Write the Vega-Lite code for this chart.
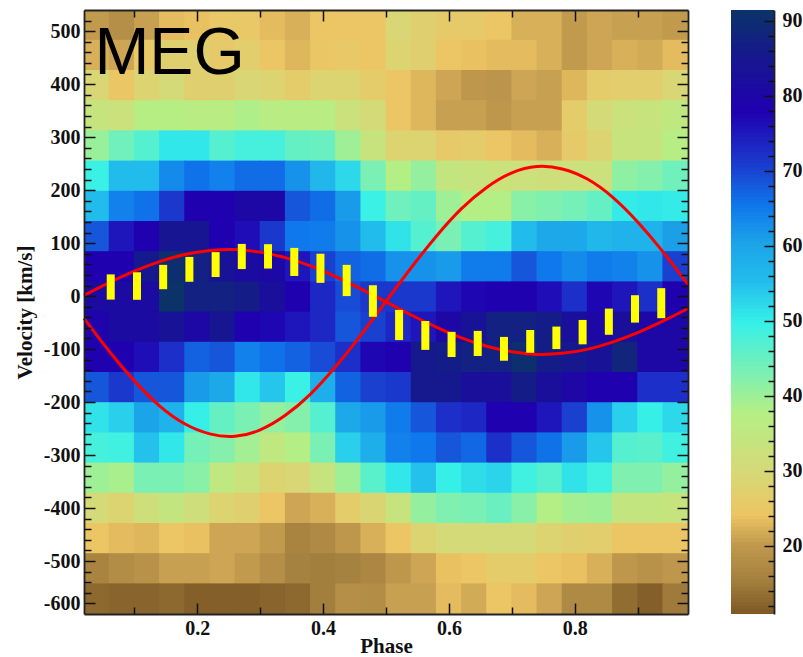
{"$schema":"https://vega.github.io/schema/vega-lite/v6.json","background":"white","padding":{"left":14,"top":9,"right":0,"bottom":0},"config":{"view":{"stroke":null},"axis":{"labelFont":"Liberation Serif","labelFontWeight":"bold","labelFontSize":20,"labelColor":"#111","titleFont":"Liberation Serif","titleFontWeight":"bold","titleFontSize":21,"titleColor":"#111","grid":false,"ticks":true,"tickColor":"#111","tickWidth":1.5,"domainColor":"#222","domainWidth":1.8,"labelOverlap":false,"labelFlush":false}},"datasets":{"cells":[
{"p":0.04,"v":511.5,"z":20},{"p":0.08,"v":511.5,"z":18},{"p":0.12,"v":511.5,"z":20.5},{"p":0.16,"v":511.5,"z":23},{"p":0.2,"v":511.5,"z":23.5},{"p":0.24,"v":511.5,"z":25},{"p":0.28,"v":511.5,"z":25},{"p":0.32,"v":511.5,"z":23},{"p":0.36,"v":511.5,"z":22},{"p":0.4,"v":511.5,"z":24},{"p":0.44,"v":511.5,"z":24},{"p":0.48,"v":511.5,"z":24},{"p":0.52,"v":511.5,"z":29},{"p":0.56,"v":511.5,"z":27},{"p":0.6,"v":511.5,"z":25.5},{"p":0.64,"v":511.5,"z":25.5},{"p":0.68,"v":511.5,"z":24},{"p":0.72,"v":511.5,"z":22},{"p":0.76,"v":511.5,"z":22},{"p":0.8,"v":511.5,"z":20},{"p":0.84,"v":511.5,"z":21},{"p":0.88,"v":511.5,"z":20.5},{"p":0.92,"v":511.5,"z":20.5},{"p":0.96,"v":511.5,"z":20},
{"p":0.04,"v":454.5,"z":22},{"p":0.08,"v":454.5,"z":21},{"p":0.12,"v":454.5,"z":25},{"p":0.16,"v":454.5,"z":27},{"p":0.2,"v":454.5,"z":27},{"p":0.24,"v":454.5,"z":25.5},{"p":0.28,"v":454.5,"z":26.5},{"p":0.32,"v":454.5,"z":24},{"p":0.36,"v":454.5,"z":22.5},{"p":0.4,"v":454.5,"z":24.5},{"p":0.44,"v":454.5,"z":25},{"p":0.48,"v":454.5,"z":24},{"p":0.52,"v":454.5,"z":28},{"p":0.56,"v":454.5,"z":27},{"p":0.6,"v":454.5,"z":24},{"p":0.64,"v":454.5,"z":23.5},{"p":0.68,"v":454.5,"z":23},{"p":0.72,"v":454.5,"z":23},{"p":0.76,"v":454.5,"z":22},{"p":0.8,"v":454.5,"z":20},{"p":0.84,"v":454.5,"z":21},{"p":0.88,"v":454.5,"z":22},{"p":0.92,"v":454.5,"z":21.5},{"p":0.96,"v":454.5,"z":23},
{"p":0.04,"v":397.5,"z":29},{"p":0.08,"v":397.5,"z":24.5},{"p":0.12,"v":397.5,"z":28},{"p":0.16,"v":397.5,"z":30},{"p":0.2,"v":397.5,"z":27},{"p":0.24,"v":397.5,"z":27},{"p":0.28,"v":397.5,"z":29},{"p":0.32,"v":397.5,"z":28},{"p":0.36,"v":397.5,"z":26},{"p":0.4,"v":397.5,"z":28},{"p":0.44,"v":397.5,"z":28},{"p":0.48,"v":397.5,"z":26},{"p":0.52,"v":397.5,"z":24},{"p":0.56,"v":397.5,"z":22.5},{"p":0.6,"v":397.5,"z":21},{"p":0.64,"v":397.5,"z":19.5},{"p":0.68,"v":397.5,"z":19},{"p":0.72,"v":397.5,"z":21},{"p":0.76,"v":397.5,"z":20.5},{"p":0.8,"v":397.5,"z":22.5},{"p":0.84,"v":397.5,"z":26},{"p":0.88,"v":397.5,"z":26.5},{"p":0.92,"v":397.5,"z":26.5},{"p":0.96,"v":397.5,"z":29},
{"p":0.04,"v":340.5,"z":33.5},{"p":0.08,"v":340.5,"z":32.5},{"p":0.12,"v":340.5,"z":37},{"p":0.16,"v":340.5,"z":37},{"p":0.2,"v":340.5,"z":36.5},{"p":0.24,"v":340.5,"z":36.5},{"p":0.28,"v":340.5,"z":38},{"p":0.32,"v":340.5,"z":36.5},{"p":0.36,"v":340.5,"z":36.5},{"p":0.4,"v":340.5,"z":36.5},{"p":0.44,"v":340.5,"z":32.5},{"p":0.48,"v":340.5,"z":30},{"p":0.52,"v":340.5,"z":24},{"p":0.56,"v":340.5,"z":22.5},{"p":0.6,"v":340.5,"z":20.5},{"p":0.64,"v":340.5,"z":20.5},{"p":0.68,"v":340.5,"z":19.5},{"p":0.72,"v":340.5,"z":20.5},{"p":0.76,"v":340.5,"z":20.5},{"p":0.8,"v":340.5,"z":26},{"p":0.84,"v":340.5,"z":30},{"p":0.88,"v":340.5,"z":32.5},{"p":0.92,"v":340.5,"z":33},{"p":0.96,"v":340.5,"z":35},
{"p":0.04,"v":283.5,"z":40},{"p":0.08,"v":283.5,"z":44},{"p":0.12,"v":283.5,"z":46.5},{"p":0.16,"v":283.5,"z":50.5},{"p":0.2,"v":283.5,"z":50.5},{"p":0.24,"v":283.5,"z":46.5},{"p":0.28,"v":283.5,"z":48},{"p":0.32,"v":283.5,"z":48},{"p":0.36,"v":283.5,"z":45},{"p":0.4,"v":283.5,"z":44.5},{"p":0.44,"v":283.5,"z":39.5},{"p":0.48,"v":283.5,"z":33},{"p":0.52,"v":283.5,"z":28},{"p":0.56,"v":283.5,"z":28},{"p":0.6,"v":283.5,"z":25.5},{"p":0.64,"v":283.5,"z":26},{"p":0.68,"v":283.5,"z":24},{"p":0.72,"v":283.5,"z":23},{"p":0.76,"v":283.5,"z":22},{"p":0.8,"v":283.5,"z":25.5},{"p":0.84,"v":283.5,"z":28},{"p":0.88,"v":283.5,"z":33},{"p":0.92,"v":283.5,"z":33.5},{"p":0.96,"v":283.5,"z":37},
{"p":0.04,"v":226.5,"z":49},{"p":0.08,"v":226.5,"z":55},{"p":0.12,"v":226.5,"z":55},{"p":0.16,"v":226.5,"z":63},{"p":0.2,"v":226.5,"z":65.5},{"p":0.24,"v":226.5,"z":64},{"p":0.28,"v":226.5,"z":66},{"p":0.32,"v":226.5,"z":66},{"p":0.36,"v":226.5,"z":62},{"p":0.4,"v":226.5,"z":56},{"p":0.44,"v":226.5,"z":52},{"p":0.48,"v":226.5,"z":43},{"p":0.52,"v":226.5,"z":37.5},{"p":0.56,"v":226.5,"z":40.5},{"p":0.6,"v":226.5,"z":34},{"p":0.64,"v":226.5,"z":33},{"p":0.68,"v":226.5,"z":32.5},{"p":0.72,"v":226.5,"z":32},{"p":0.76,"v":226.5,"z":31.5},{"p":0.8,"v":226.5,"z":32},{"p":0.84,"v":226.5,"z":32},{"p":0.88,"v":226.5,"z":41},{"p":0.92,"v":226.5,"z":42},{"p":0.96,"v":226.5,"z":44},
{"p":0.04,"v":169.5,"z":55},{"p":0.08,"v":169.5,"z":64},{"p":0.12,"v":169.5,"z":65.5},{"p":0.16,"v":169.5,"z":71},{"p":0.2,"v":169.5,"z":78},{"p":0.24,"v":169.5,"z":78},{"p":0.28,"v":169.5,"z":80},{"p":0.32,"v":169.5,"z":80},{"p":0.36,"v":169.5,"z":68},{"p":0.4,"v":169.5,"z":66},{"p":0.44,"v":169.5,"z":61},{"p":0.48,"v":169.5,"z":49},{"p":0.52,"v":169.5,"z":44},{"p":0.56,"v":169.5,"z":45},{"p":0.6,"v":169.5,"z":39.5},{"p":0.64,"v":169.5,"z":37.5},{"p":0.68,"v":169.5,"z":37.5},{"p":0.72,"v":169.5,"z":41.5},{"p":0.76,"v":169.5,"z":42.5},{"p":0.8,"v":169.5,"z":43.5},{"p":0.84,"v":169.5,"z":45},{"p":0.88,"v":169.5,"z":50},{"p":0.92,"v":169.5,"z":50.5},{"p":0.96,"v":169.5,"z":50},
{"p":0.04,"v":112.5,"z":68},{"p":0.08,"v":112.5,"z":75},{"p":0.12,"v":112.5,"z":78},{"p":0.16,"v":112.5,"z":84},{"p":0.2,"v":112.5,"z":84},{"p":0.24,"v":112.5,"z":78},{"p":0.28,"v":112.5,"z":76},{"p":0.32,"v":112.5,"z":71},{"p":0.36,"v":112.5,"z":65},{"p":0.4,"v":112.5,"z":64.5},{"p":0.44,"v":112.5,"z":62},{"p":0.48,"v":112.5,"z":55},{"p":0.52,"v":112.5,"z":51},{"p":0.56,"v":112.5,"z":46.5},{"p":0.6,"v":112.5,"z":43},{"p":0.64,"v":112.5,"z":46.5},{"p":0.68,"v":112.5,"z":48},{"p":0.72,"v":112.5,"z":55},{"p":0.76,"v":112.5,"z":59},{"p":0.8,"v":112.5,"z":59},{"p":0.84,"v":112.5,"z":56},{"p":0.88,"v":112.5,"z":57},{"p":0.92,"v":112.5,"z":57},{"p":0.96,"v":112.5,"z":60.5},
{"p":0.04,"v":55.5,"z":78},{"p":0.08,"v":55.5,"z":78},{"p":0.12,"v":55.5,"z":85},{"p":0.16,"v":55.5,"z":90},{"p":0.2,"v":55.5,"z":87},{"p":0.24,"v":55.5,"z":83},{"p":0.28,"v":55.5,"z":81},{"p":0.32,"v":55.5,"z":80},{"p":0.36,"v":55.5,"z":75},{"p":0.4,"v":55.5,"z":70},{"p":0.44,"v":55.5,"z":67},{"p":0.48,"v":55.5,"z":66},{"p":0.52,"v":55.5,"z":62},{"p":0.56,"v":55.5,"z":62},{"p":0.6,"v":55.5,"z":61},{"p":0.64,"v":55.5,"z":64.5},{"p":0.68,"v":55.5,"z":64.5},{"p":0.72,"v":55.5,"z":68},{"p":0.76,"v":55.5,"z":65},{"p":0.8,"v":55.5,"z":63},{"p":0.84,"v":55.5,"z":64.5},{"p":0.88,"v":55.5,"z":64},{"p":0.92,"v":55.5,"z":62},{"p":0.96,"v":55.5,"z":70},
{"p":0.04,"v":-1.5,"z":81},{"p":0.08,"v":-1.5,"z":81},{"p":0.12,"v":-1.5,"z":81},{"p":0.16,"v":-1.5,"z":91},{"p":0.2,"v":-1.5,"z":87},{"p":0.24,"v":-1.5,"z":87},{"p":0.28,"v":-1.5,"z":86},{"p":0.32,"v":-1.5,"z":82},{"p":0.36,"v":-1.5,"z":78},{"p":0.4,"v":-1.5,"z":73},{"p":0.44,"v":-1.5,"z":69},{"p":0.48,"v":-1.5,"z":71},{"p":0.52,"v":-1.5,"z":71},{"p":0.56,"v":-1.5,"z":71},{"p":0.6,"v":-1.5,"z":75},{"p":0.64,"v":-1.5,"z":77},{"p":0.68,"v":-1.5,"z":78},{"p":0.72,"v":-1.5,"z":78},{"p":0.76,"v":-1.5,"z":76},{"p":0.8,"v":-1.5,"z":72},{"p":0.84,"v":-1.5,"z":77},{"p":0.88,"v":-1.5,"z":75},{"p":0.92,"v":-1.5,"z":72},{"p":0.96,"v":-1.5,"z":78},
{"p":0.04,"v":-58.5,"z":79},{"p":0.08,"v":-58.5,"z":81},{"p":0.12,"v":-58.5,"z":81},{"p":0.16,"v":-58.5,"z":83},{"p":0.2,"v":-58.5,"z":80},{"p":0.24,"v":-58.5,"z":84},{"p":0.28,"v":-58.5,"z":78},{"p":0.32,"v":-58.5,"z":77},{"p":0.36,"v":-58.5,"z":75},{"p":0.4,"v":-58.5,"z":73},{"p":0.44,"v":-58.5,"z":68},{"p":0.48,"v":-58.5,"z":70},{"p":0.52,"v":-58.5,"z":73},{"p":0.56,"v":-58.5,"z":75},{"p":0.6,"v":-58.5,"z":80},{"p":0.64,"v":-58.5,"z":83},{"p":0.68,"v":-58.5,"z":87},{"p":0.72,"v":-58.5,"z":87},{"p":0.76,"v":-58.5,"z":86},{"p":0.8,"v":-58.5,"z":82},{"p":0.84,"v":-58.5,"z":80},{"p":0.88,"v":-58.5,"z":82},{"p":0.92,"v":-58.5,"z":80},{"p":0.96,"v":-58.5,"z":80},
{"p":0.04,"v":-115.5,"z":78},{"p":0.08,"v":-115.5,"z":78},{"p":0.12,"v":-115.5,"z":76},{"p":0.16,"v":-115.5,"z":72},{"p":0.2,"v":-115.5,"z":67},{"p":0.24,"v":-115.5,"z":68},{"p":0.28,"v":-115.5,"z":64},{"p":0.32,"v":-115.5,"z":65.5},{"p":0.36,"v":-115.5,"z":67},{"p":0.4,"v":-115.5,"z":69},{"p":0.44,"v":-115.5,"z":72},{"p":0.48,"v":-115.5,"z":77},{"p":0.52,"v":-115.5,"z":78},{"p":0.56,"v":-115.5,"z":85},{"p":0.6,"v":-115.5,"z":86},{"p":0.64,"v":-115.5,"z":87},{"p":0.68,"v":-115.5,"z":87},{"p":0.72,"v":-115.5,"z":90},{"p":0.76,"v":-115.5,"z":86},{"p":0.8,"v":-115.5,"z":85},{"p":0.84,"v":-115.5,"z":83},{"p":0.88,"v":-115.5,"z":88},{"p":0.92,"v":-115.5,"z":80},{"p":0.96,"v":-115.5,"z":80},
{"p":0.04,"v":-172.5,"z":68},{"p":0.08,"v":-172.5,"z":71},{"p":0.12,"v":-172.5,"z":68},{"p":0.16,"v":-172.5,"z":68},{"p":0.2,"v":-172.5,"z":61},{"p":0.24,"v":-172.5,"z":59},{"p":0.28,"v":-172.5,"z":50.5},{"p":0.32,"v":-172.5,"z":54},{"p":0.36,"v":-172.5,"z":49},{"p":0.4,"v":-172.5,"z":58},{"p":0.44,"v":-172.5,"z":67},{"p":0.48,"v":-172.5,"z":70},{"p":0.52,"v":-172.5,"z":71},{"p":0.56,"v":-172.5,"z":85},{"p":0.6,"v":-172.5,"z":85},{"p":0.64,"v":-172.5,"z":82},{"p":0.68,"v":-172.5,"z":82},{"p":0.72,"v":-172.5,"z":86},{"p":0.76,"v":-172.5,"z":82},{"p":0.8,"v":-172.5,"z":80},{"p":0.84,"v":-172.5,"z":78},{"p":0.88,"v":-172.5,"z":78},{"p":0.92,"v":-172.5,"z":72},{"p":0.96,"v":-172.5,"z":72},
{"p":0.04,"v":-229.5,"z":51},{"p":0.08,"v":-229.5,"z":53},{"p":0.12,"v":-229.5,"z":60},{"p":0.16,"v":-229.5,"z":57},{"p":0.2,"v":-229.5,"z":49.5},{"p":0.24,"v":-229.5,"z":45},{"p":0.28,"v":-229.5,"z":43},{"p":0.32,"v":-229.5,"z":40.5},{"p":0.36,"v":-229.5,"z":42},{"p":0.4,"v":-229.5,"z":46.5},{"p":0.44,"v":-229.5,"z":59},{"p":0.48,"v":-229.5,"z":61},{"p":0.52,"v":-229.5,"z":64.5},{"p":0.56,"v":-229.5,"z":68},{"p":0.6,"v":-229.5,"z":72},{"p":0.64,"v":-229.5,"z":73},{"p":0.68,"v":-229.5,"z":78},{"p":0.72,"v":-229.5,"z":78},{"p":0.76,"v":-229.5,"z":75},{"p":0.8,"v":-229.5,"z":70},{"p":0.84,"v":-229.5,"z":62},{"p":0.88,"v":-229.5,"z":53},{"p":0.92,"v":-229.5,"z":49.5},{"p":0.96,"v":-229.5,"z":52},
{"p":0.04,"v":-286.5,"z":48},{"p":0.08,"v":-286.5,"z":48.5},{"p":0.12,"v":-286.5,"z":54.5},{"p":0.16,"v":-286.5,"z":50.5},{"p":0.2,"v":-286.5,"z":43.5},{"p":0.24,"v":-286.5,"z":42},{"p":0.28,"v":-286.5,"z":39},{"p":0.32,"v":-286.5,"z":35},{"p":0.36,"v":-286.5,"z":37.5},{"p":0.4,"v":-286.5,"z":43},{"p":0.44,"v":-286.5,"z":53},{"p":0.48,"v":-286.5,"z":58},{"p":0.52,"v":-286.5,"z":64},{"p":0.56,"v":-286.5,"z":65},{"p":0.6,"v":-286.5,"z":68},{"p":0.64,"v":-286.5,"z":66.5},{"p":0.68,"v":-286.5,"z":72},{"p":0.72,"v":-286.5,"z":68},{"p":0.76,"v":-286.5,"z":65.5},{"p":0.8,"v":-286.5,"z":61},{"p":0.84,"v":-286.5,"z":54},{"p":0.88,"v":-286.5,"z":46.5},{"p":0.92,"v":-286.5,"z":46},{"p":0.96,"v":-286.5,"z":48.5},
{"p":0.04,"v":-343.5,"z":39.5},{"p":0.08,"v":-343.5,"z":38.5},{"p":0.12,"v":-343.5,"z":43},{"p":0.16,"v":-343.5,"z":43},{"p":0.2,"v":-343.5,"z":41.5},{"p":0.24,"v":-343.5,"z":35},{"p":0.28,"v":-343.5,"z":32.5},{"p":0.32,"v":-343.5,"z":28},{"p":0.36,"v":-343.5,"z":29},{"p":0.4,"v":-343.5,"z":33},{"p":0.44,"v":-343.5,"z":39.5},{"p":0.48,"v":-343.5,"z":46},{"p":0.52,"v":-343.5,"z":50.5},{"p":0.56,"v":-343.5,"z":54.5},{"p":0.6,"v":-343.5,"z":49.5},{"p":0.64,"v":-343.5,"z":51.5},{"p":0.68,"v":-343.5,"z":52.5},{"p":0.72,"v":-343.5,"z":48.5},{"p":0.76,"v":-343.5,"z":46.5},{"p":0.8,"v":-343.5,"z":51},{"p":0.84,"v":-343.5,"z":48.5},{"p":0.88,"v":-343.5,"z":42.5},{"p":0.92,"v":-343.5,"z":42.5},{"p":0.96,"v":-343.5,"z":40.5},
{"p":0.04,"v":-400.5,"z":30},{"p":0.08,"v":-400.5,"z":28},{"p":0.12,"v":-400.5,"z":31.5},{"p":0.16,"v":-400.5,"z":34},{"p":0.2,"v":-400.5,"z":31.5},{"p":0.24,"v":-400.5,"z":28},{"p":0.28,"v":-400.5,"z":27},{"p":0.32,"v":-400.5,"z":24},{"p":0.36,"v":-400.5,"z":21},{"p":0.4,"v":-400.5,"z":22},{"p":0.44,"v":-400.5,"z":26},{"p":0.48,"v":-400.5,"z":28.5},{"p":0.52,"v":-400.5,"z":33},{"p":0.56,"v":-400.5,"z":40.5},{"p":0.6,"v":-400.5,"z":42.5},{"p":0.64,"v":-400.5,"z":43},{"p":0.68,"v":-400.5,"z":44.5},{"p":0.72,"v":-400.5,"z":41.5},{"p":0.76,"v":-400.5,"z":37.5},{"p":0.8,"v":-400.5,"z":39},{"p":0.84,"v":-400.5,"z":39.5},{"p":0.88,"v":-400.5,"z":34},{"p":0.92,"v":-400.5,"z":34},{"p":0.96,"v":-400.5,"z":33},
{"p":0.04,"v":-457.5,"z":24},{"p":0.08,"v":-457.5,"z":23},{"p":0.12,"v":-457.5,"z":22.5},{"p":0.16,"v":-457.5,"z":24},{"p":0.2,"v":-457.5,"z":23.5},{"p":0.24,"v":-457.5,"z":21},{"p":0.28,"v":-457.5,"z":21},{"p":0.32,"v":-457.5,"z":20},{"p":0.36,"v":-457.5,"z":16},{"p":0.4,"v":-457.5,"z":17},{"p":0.44,"v":-457.5,"z":19.5},{"p":0.48,"v":-457.5,"z":22},{"p":0.52,"v":-457.5,"z":24},{"p":0.56,"v":-457.5,"z":28},{"p":0.6,"v":-457.5,"z":30},{"p":0.64,"v":-457.5,"z":30},{"p":0.68,"v":-457.5,"z":30},{"p":0.72,"v":-457.5,"z":30},{"p":0.76,"v":-457.5,"z":28},{"p":0.8,"v":-457.5,"z":27},{"p":0.84,"v":-457.5,"z":26.5},{"p":0.88,"v":-457.5,"z":24},{"p":0.92,"v":-457.5,"z":24},{"p":0.96,"v":-457.5,"z":24},
{"p":0.04,"v":-514.5,"z":16},{"p":0.08,"v":-514.5,"z":17.5},{"p":0.12,"v":-514.5,"z":18.5},{"p":0.16,"v":-514.5,"z":20.5},{"p":0.2,"v":-514.5,"z":20.5},{"p":0.24,"v":-514.5,"z":21},{"p":0.28,"v":-514.5,"z":20},{"p":0.32,"v":-514.5,"z":18},{"p":0.36,"v":-514.5,"z":15.5},{"p":0.4,"v":-514.5,"z":15},{"p":0.44,"v":-514.5,"z":15.5},{"p":0.48,"v":-514.5,"z":16.5},{"p":0.52,"v":-514.5,"z":19.5},{"p":0.56,"v":-514.5,"z":21},{"p":0.6,"v":-514.5,"z":23.5},{"p":0.64,"v":-514.5,"z":24},{"p":0.68,"v":-514.5,"z":26},{"p":0.72,"v":-514.5,"z":26},{"p":0.76,"v":-514.5,"z":24},{"p":0.8,"v":-514.5,"z":23.5},{"p":0.84,"v":-514.5,"z":22},{"p":0.88,"v":-514.5,"z":19.5},{"p":0.92,"v":-514.5,"z":18.5},{"p":0.96,"v":-514.5,"z":19.5},
{"p":0.04,"v":-571.5,"z":12.5},{"p":0.08,"v":-571.5,"z":12},{"p":0.12,"v":-571.5,"z":12},{"p":0.16,"v":-571.5,"z":12.5},{"p":0.2,"v":-571.5,"z":11.5},{"p":0.24,"v":-571.5,"z":11.5},{"p":0.28,"v":-571.5,"z":11.5},{"p":0.32,"v":-571.5,"z":12},{"p":0.36,"v":-571.5,"z":12.5},{"p":0.4,"v":-571.5,"z":15},{"p":0.44,"v":-571.5,"z":18},{"p":0.48,"v":-571.5,"z":17.5},{"p":0.52,"v":-571.5,"z":20.5},{"p":0.56,"v":-571.5,"z":20.5},{"p":0.6,"v":-571.5,"z":23},{"p":0.64,"v":-571.5,"z":21.5},{"p":0.68,"v":-571.5,"z":24},{"p":0.72,"v":-571.5,"z":23},{"p":0.76,"v":-571.5,"z":21},{"p":0.8,"v":-571.5,"z":17},{"p":0.84,"v":-571.5,"z":17},{"p":0.88,"v":-571.5,"z":13},{"p":0.92,"v":-571.5,"z":11.5},{"p":0.96,"v":-571.5,"z":14.5}
],
"curves":[
{"phase":0.02,"a":1.4,"b":-42},{"phase":0.06,"a":25.4,"b":-104},{"phase":0.1,"a":47,"b":-160},{"phase":0.14,"a":65,"b":-207},{"phase":0.18,"a":78.6,"b":-241},{"phase":0.22,"a":86,"b":-260},{"phase":0.26,"a":88,"b":-264.5},{"phase":0.3,"a":83,"b":-252.5},{"phase":0.34,"a":72.6,"b":-225},{"phase":0.38,"a":57,"b":-185},{"phase":0.42,"a":36.7,"b":-133},{"phase":0.46,"a":13.7,"b":-73.5},{"phase":0.5,"a":-11,"b":-10},{"phase":0.54,"a":-35.7,"b":53.5},{"phase":0.58,"a":-58.7,"b":113},{"phase":0.62,"a":-79,"b":165},{"phase":0.66,"a":-94.6,"b":205},{"phase":0.7,"a":-105,"b":232.5},{"phase":0.74,"a":-110,"b":244.5},{"phase":0.78,"a":-108,"b":240},{"phase":0.82,"a":-100.6,"b":221},{"phase":0.86,"a":-87,"b":187},{"phase":0.9,"a":-69,"b":140},{"phase":0.94,"a":-47.4,"b":84},{"phase":0.98,"a":-23.4,"b":22}
],
"bars":[
{"phase":0.0625,"hi":41,"lo":-6.6},{"phase":0.1042,"hi":45,"lo":-7},{"phase":0.1458,"hi":59,"lo":13},{"phase":0.1875,"hi":74,"lo":27},{"phase":0.2292,"hi":83,"lo":36},{"phase":0.2708,"hi":98.5,"lo":51},{"phase":0.3125,"hi":98,"lo":52},{"phase":0.3542,"hi":91,"lo":38},{"phase":0.3958,"hi":80,"lo":25},{"phase":0.4375,"hi":59,"lo":0},{"phase":0.4792,"hi":20.5,"lo":-39},{"phase":0.5208,"hi":-26,"lo":-83},{"phase":0.5625,"hi":-47,"lo":-101.5},{"phase":0.6042,"hi":-67.5,"lo":-115},{"phase":0.6458,"hi":-65.6,"lo":-113},{"phase":0.6875,"hi":-77,"lo":-122},{"phase":0.7292,"hi":-64,"lo":-107},{"phase":0.7708,"hi":-57.5,"lo":-100},{"phase":0.8125,"hi":-45,"lo":-91},{"phase":0.8542,"hi":-23.6,"lo":-73},{"phase":0.8958,"hi":1.7,"lo":-50},{"phase":0.9375,"hi":15,"lo":-41.7}
],
"bar":[
{"z":10.5,"z2":11.5},{"z":11,"z2":12},{"z":11.5,"z2":12.5},{"z":12,"z2":13},{"z":12.5,"z2":13.5},{"z":13,"z2":14},{"z":13.5,"z2":14.5},{"z":14,"z2":15},{"z":14.5,"z2":15.5},{"z":15,"z2":16},{"z":15.5,"z2":16.5},{"z":16,"z2":17},{"z":16.5,"z2":17.5},{"z":17,"z2":18},{"z":17.5,"z2":18.5},{"z":18,"z2":19},{"z":18.5,"z2":19.5},{"z":19,"z2":20},{"z":19.5,"z2":20.5},{"z":20,"z2":21},{"z":20.5,"z2":21.5},{"z":21,"z2":22},{"z":21.5,"z2":22.5},{"z":22,"z2":23},{"z":22.5,"z2":23.5},{"z":23,"z2":24},{"z":23.5,"z2":24.5},{"z":24,"z2":25},{"z":24.5,"z2":25.5},{"z":25,"z2":26},{"z":25.5,"z2":26.5},{"z":26,"z2":27},{"z":26.5,"z2":27.5},{"z":27,"z2":28},{"z":27.5,"z2":28.5},{"z":28,"z2":29},{"z":28.5,"z2":29.5},{"z":29,"z2":30},{"z":29.5,"z2":30.5},{"z":30,"z2":31},{"z":30.5,"z2":31.5},{"z":31,"z2":32},{"z":31.5,"z2":32.5},{"z":32,"z2":33},{"z":32.5,"z2":33.5},{"z":33,"z2":34},{"z":33.5,"z2":34.5},{"z":34,"z2":35},{"z":34.5,"z2":35.5},{"z":35,"z2":36},{"z":35.5,"z2":36.5},{"z":36,"z2":37},{"z":36.5,"z2":37.5},{"z":37,"z2":38},{"z":37.5,"z2":38.5},{"z":38,"z2":39},{"z":38.5,"z2":39.5},{"z":39,"z2":40},{"z":39.5,"z2":40.5},{"z":40,"z2":41},{"z":40.5,"z2":41.5},{"z":41,"z2":42},{"z":41.5,"z2":42.5},{"z":42,"z2":43},{"z":42.5,"z2":43.5},{"z":43,"z2":44},{"z":43.5,"z2":44.5},{"z":44,"z2":45},{"z":44.5,"z2":45.5},{"z":45,"z2":46},{"z":45.5,"z2":46.5},{"z":46,"z2":47},{"z":46.5,"z2":47.5},{"z":47,"z2":48},{"z":47.5,"z2":48.5},{"z":48,"z2":49},{"z":48.5,"z2":49.5},{"z":49,"z2":50},{"z":49.5,"z2":50.5},{"z":50,"z2":51},{"z":50.5,"z2":51.5},{"z":51,"z2":52},{"z":51.5,"z2":52.5},{"z":52,"z2":53},{"z":52.5,"z2":53.5},{"z":53,"z2":54},{"z":53.5,"z2":54.5},{"z":54,"z2":55},{"z":54.5,"z2":55.5},{"z":55,"z2":56},{"z":55.5,"z2":56.5},{"z":56,"z2":57},{"z":56.5,"z2":57.5},{"z":57,"z2":58},{"z":57.5,"z2":58.5},{"z":58,"z2":59},{"z":58.5,"z2":59.5},{"z":59,"z2":60},{"z":59.5,"z2":60.5},{"z":60,"z2":61},{"z":60.5,"z2":61.5},{"z":61,"z2":62},{"z":61.5,"z2":62.5},{"z":62,"z2":63},{"z":62.5,"z2":63.5},{"z":63,"z2":64},{"z":63.5,"z2":64.5},{"z":64,"z2":65},{"z":64.5,"z2":65.5},{"z":65,"z2":66},{"z":65.5,"z2":66.5},{"z":66,"z2":67},{"z":66.5,"z2":67.5},{"z":67,"z2":68},{"z":67.5,"z2":68.5},{"z":68,"z2":69},{"z":68.5,"z2":69.5},{"z":69,"z2":70},{"z":69.5,"z2":70.5},{"z":70,"z2":71},{"z":70.5,"z2":71.5},{"z":71,"z2":72},{"z":71.5,"z2":72.5},{"z":72,"z2":73},{"z":72.5,"z2":73.5},{"z":73,"z2":74},{"z":73.5,"z2":74.5},{"z":74,"z2":75},{"z":74.5,"z2":75.5},{"z":75,"z2":76},{"z":75.5,"z2":76.5},{"z":76,"z2":77},{"z":76.5,"z2":77.5},{"z":77,"z2":78},{"z":77.5,"z2":78.5},{"z":78,"z2":79},{"z":78.5,"z2":79.5},{"z":79,"z2":80},{"z":79.5,"z2":80.5},{"z":80,"z2":81},{"z":80.5,"z2":81.5},{"z":81,"z2":82},{"z":81.5,"z2":82.5},{"z":82,"z2":83},{"z":82.5,"z2":83.5},{"z":83,"z2":84},{"z":83.5,"z2":84.5},{"z":84,"z2":85},{"z":84.5,"z2":85.5},{"z":85,"z2":86},{"z":85.5,"z2":86.5},{"z":86,"z2":87},{"z":86.5,"z2":87.5},{"z":87,"z2":88},{"z":87.5,"z2":88.5},{"z":88,"z2":89},{"z":88.5,"z2":89.5},{"z":89,"z2":90},{"z":89.5,"z2":90.5},{"z":90,"z2":91},{"z":90.5,"z2":91.5},{"z":91,"z2":92}
],
"title":[{"phase":0.0365,"v":419,"label":"MEG"}]},
"hconcat":[
{"width":604,"height":604,"layer":[
{"data":{"name":"cells"},"mark":{"type":"rect","width":26,"height":31,"clip":true},"encoding":{
"x":{"field":"p","type":"quantitative","scale":{"domain":[0.02,0.98],"nice":false,"zero":false},"title":"Phase","axis":{"zindex":1,"orient":"bottom","values":[0.2,0.4,0.6,0.8],"format":".1f","tickSize":-11,"labelPadding":15,"titlePadding":-3}},
"y":{"field":"v","type":"quantitative","scale":{"domain":[-600,540],"nice":false,"zero":false},"title":"Velocity [km/s]","axis":{"zindex":1,"orient":"left","values":[500,400,300,200,100,0,-100,-200,-300,-400,-500,-580],"labelExpr":"datum.value===-580?'-600':''+datum.value","tickSize":-11,"labelPadding":15,"titlePadding":8}},
"color":{"field":"z","type":"quantitative","legend":null,"scale":{"interpolate":"rgb","domain":[10.9,15,20,23.8,30,37.4,42,49.5,55,60,65,70,77.7,86,91.4],"range":["#7f5a25","#a37f3e","#c19a4e","#edc463","#d4da78","#b5ef85","#84f0ac","#36f0e8","#22bcec","#1ca4e8","#0f78ec","#1a40d0","#2000b0","#141c88","#0a3566"]}}
}},
{"data":{"name":"curves"},"mark":{"type":"line","color":"#ff0000","strokeWidth":3,"interpolate":"natural"},"encoding":{"x":{"field":"phase","type":"quantitative","title":null,"axis":{"zindex":1,"orient":"bottom","values":[0.1,0.3,0.5,0.7,0.9],"labels":false,"domain":false,"tickSize":-7}},"y":{"field":"a","type":"quantitative","title":null,"axis":{"zindex":1,"orient":"left","values":[520,480,460,440,420,380,360,340,320,280,260,240,220,180,160,140,120,80,60,40,20,-20,-40,-60,-80,-120,-140,-160,-180,-220,-240,-260,-280,-320,-340,-360,-380,-420,-440,-460,-480,-520,-540,-560],"labels":false,"domain":false,"tickSize":-7}}}},
{"data":{"name":"curves"},"mark":{"type":"line","color":"#ff0000","strokeWidth":3,"interpolate":"natural"},"encoding":{"x":{"field":"phase","type":"quantitative","axis":null},"y":{"field":"b","type":"quantitative","axis":null}}},
{"data":{"name":"title"},"mark":{"type":"text","font":"Liberation Sans","fontSize":66,"align":"left","baseline":"alphabetic","color":"#000"},"encoding":{"x":{"field":"phase","type":"quantitative","title":null,"axis":{"zindex":1,"orient":"top","values":[0.1,0.3,0.5,0.7,0.9],"labels":false,"domain":false,"tickSize":-7}},"y":{"field":"v","type":"quantitative","title":null,"axis":{"zindex":1,"orient":"right","values":[520,480,460,440,420,380,360,340,320,280,260,240,220,180,160,140,120,80,60,40,20,-20,-40,-60,-80,-120,-140,-160,-180,-220,-240,-260,-280,-320,-340,-360,-380,-420,-440,-460,-480,-520,-540,-560],"labels":false,"domain":false,"tickSize":-7}},"text":{"field":"label"}}},
{"data":{"name":"bars"},"mark":{"type":"rule","color":"#ffff00","strokeWidth":8},"encoding":{
"x":{"field":"phase","type":"quantitative","title":null,"axis":{"zindex":1,"orient":"top","values":[0.2,0.4,0.6,0.8],"labels":false,"tickSize":-11}},
"y":{"field":"lo","type":"quantitative","title":null,"axis":{"zindex":1,"orient":"right","values":[500,400,300,200,100,0,-100,-200,-300,-400,-500,-580],"labels":false,"tickSize":-11}},
"y2":{"field":"hi"}}}
],"resolve":{"axis":{"x":"independent","y":"independent"}}},
{"data":{"name":"bar"},"width":43,"height":604,"layer":[{"mark":{"type":"rect","clip":true},"encoding":{
"x":{"datum":0,"type":"quantitative","scale":{"domain":[0,1],"nice":false,"zero":false},"axis":null},"x2":{"datum":1},
"y":{"field":"z","type":"quantitative","scale":{"domain":[10.9,91.4],"nice":false,"zero":false},"title":null,"axis":{"zindex":1,"orient":"right","values":[20,30,40,50,60,70,80,90],"format":"d","tickSize":-10,"labelPadding":18}},
"y2":{"field":"z2"},
"color":{"field":"z","type":"quantitative","legend":null,"scale":{"interpolate":"rgb","domain":[10.9,15,20,23.8,30,37.4,42,49.5,55,60,65,70,77.7,86,91.4],"range":["#7f5a25","#a37f3e","#c19a4e","#edc463","#d4da78","#b5ef85","#84f0ac","#36f0e8","#22bcec","#1ca4e8","#0f78ec","#1a40d0","#2000b0","#141c88","#0a3566"]}}
}},{"mark":{"type":"rect","clip":true},"encoding":{
"x":{"datum":0,"type":"quantitative","axis":null},"x2":{"datum":1},
"y":{"field":"z","type":"quantitative","title":null,"axis":{"zindex":1,"orient":"right","values":[12,14,16,18,22,24,26,28,32,34,36,38,42,44,46,48,52,54,56,58,62,64,66,68,72,74,76,78,82,84,86,88],"labels":false,"domain":false,"tickSize":-6}},
"y2":{"field":"z2"},
"color":{"field":"z","type":"quantitative","legend":null}
}}],"resolve":{"axis":{"y":"independent"}}}
],"spacing":37,"resolve":{"scale":{"color":"independent"}}}
